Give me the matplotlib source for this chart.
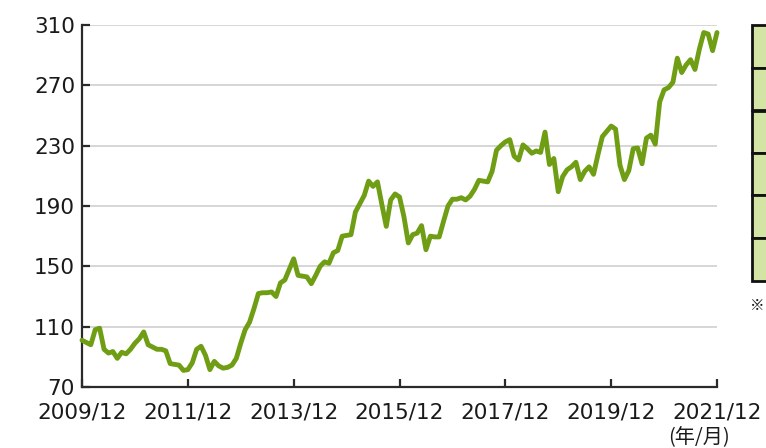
import matplotlib.pyplot as plt
from matplotlib.patches import Rectangle

# monthly index, 2009/12 .. 2021/12
values = [
    101, 99.5, 98, 108, 109, 95, 92.5, 93.5, 89, 93,
    92, 95, 99, 102, 106.5, 98, 96.5, 95, 95, 94,
    85.5, 85, 84.5, 81, 81.5, 86, 95, 97, 91, 81.5,
    87, 84, 82.5, 83, 84.5, 89, 99, 108, 113, 122,
    132, 132.5, 132.5, 133, 130, 139, 141, 148, 155, 144,
    143.5, 143, 138.5, 144, 150, 153, 152, 159, 160.5, 170,
    170.5, 171, 186, 191.5, 197, 206.5, 203, 206, 191, 176.5,
    194, 198, 196, 183, 165.5, 171, 172, 177, 161, 170,
    169.5, 169.5, 180, 190, 194.5, 194.5, 195.5, 194, 196.5, 201,
    207, 206.5, 206, 213, 227, 230, 232.5, 234, 223, 220.5,
    230.5, 228, 225, 226.5, 225.5, 239, 217.5, 221.5, 199.5, 209.5,
    214, 216, 219, 207.5, 213, 216, 211, 224, 236, 239.5,
    243, 241, 217, 207.5, 213.5, 228, 228.5, 218, 235, 237,
    231, 259, 267, 268.5, 272, 288, 278.5, 283.5, 287, 280.5,
    294, 305, 304, 293, 305,
]
months = list(range(len(values)))

xtick_pos = [0, 24, 48, 72, 96, 120, 144]
xtick_labels = ["2009/12", "2011/12", "2013/12", "2015/12", "2017/12", "2019/12", "2021/12"]
yticks = [70, 110, 150, 190, 230, 270, 310]

plt.rcParams['font.family'] = ['DejaVu Sans', 'Noto Sans CJK JP']

fig = plt.figure(figsize=(7.66, 4.48), dpi=100)
ax = fig.add_axes([82 / 766, 1 - 387 / 448, 635 / 766, 362 / 448])

for y in yticks[1:]:
    ax.axhline(y, color='#cfcfcf', lw=1.2, zorder=1)

ax.plot(months, values, color='#6f9e15', lw=3.5, solid_joinstyle='round',
        solid_capstyle='round', zorder=3, clip_on=False)

ax.set_xlim(0, 144)
ax.set_ylim(70, 310)
ax.set_xticks(xtick_pos)
ax.set_xticklabels(xtick_labels)
ax.set_yticks(yticks)

for s in ['top', 'right']:
    ax.spines[s].set_visible(False)
for s in ['left', 'bottom']:
    ax.spines[s].set_color('#2a2a2a')
    ax.spines[s].set_linewidth(1.6)

ax.tick_params(axis='both', direction='in', length=6, width=1.6, color='#2a2a2a',
               labelsize=15.5, labelcolor='#1a1a1a')
ax.tick_params(axis='x', pad=11)
ax.tick_params(axis='y', pad=5)

fig.text(699 / 766, 1 - 438 / 448, "(年/月)", ha='center', va='center',
         fontsize=14.5, color='#1a1a1a', family=['Noto Sans CJK JP', 'DejaVu Sans'])

# cut-off table on the right edge
row_edges = [25, 68, 110.5, 153, 195.5, 238, 280.5]
for top, bot in zip(row_edges[:-1], row_edges[1:]):
    fig.patches.append(Rectangle((752 / 766, 1 - bot / 448), 20 / 766, (bot - top) / 448,
                                 transform=fig.transFigure, facecolor='#d3e4a4',
                                 edgecolor='#111111', lw=2.0))

fig.text(765 / 766, 1 - 306 / 448, "※", ha='right', va='center', fontsize=10.5,
         color='#1a1a1a', family=['Noto Sans CJK JP', 'DejaVu Sans'])

fig.savefig('out.png', dpi=100)
